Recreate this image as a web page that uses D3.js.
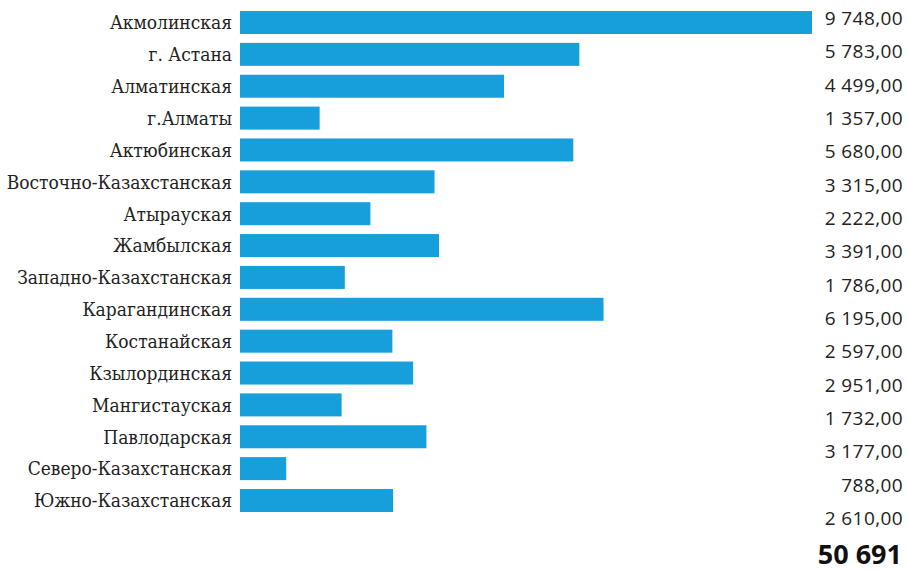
<!DOCTYPE html>
<html>
<head>
<meta charset="utf-8">
<script src="https://cdn.jsdelivr.net/npm/d3@7"></script>
<style>
  html, body { margin: 0; padding: 0; background: #fff; }
  svg { display: block; }
  .region { font-family: "DejaVu Serif", "Liberation Serif", serif; font-stretch: condensed; font-size: 19px; fill: #222; }
  .value { font-family: "Open Sans", "Noto Sans", sans-serif; font-size: 19px; letter-spacing: 0.4px; fill: #222; }
  .total { font-family: "Open Sans", "Noto Sans", sans-serif; font-size: 27px; font-weight: 700; fill: #111; }
</style>
</head>
<body>
<svg id="chart" width="908" height="572"></svg>
<script>
// Regions of Kazakhstan and their values
const regions = [
  "Акмолинская", "г. Астана", "Алматинская", "г.Алматы", "Актюбинская",
  "Восточно-Казахстанская", "Атырауская", "Жамбылская", "Западно-Казахстанская",
  "Карагандинская", "Костанайская", "Кзылординская", "Мангистауская",
  "Павлодарская", "Северо-Казахстанская", "Южно-Казахстанская"
];
const values = [
  9748, 5783, 4499, 1357, 5680,
  3315, 2222, 3391, 1786,
  6195, 2597, 2951, 1732,
  3177, 788, 2610
];
const totalValue = 50691;

const svg = d3.select("#chart");

const locale = d3.formatLocale({ decimal: ",", thousands: "\u00a0", grouping: [3], currency: ["", ""] });
const fmtValue = locale.format(",.2f");
const fmtTotal = locale.format(",d");

// Bar band: one row per region
const step = 31.87;
const y = d3.scaleBand()
  .domain(regions)
  .range([11 - 0.14 * step, 11 - 0.14 * step + regions.length * step])
  .paddingInner(0.278)
  .paddingOuter(0.14);

const x = d3.scaleLinear()
  .domain([0, d3.max(values)])
  .range([240, 812]);

const rows = regions.map((r, i) => ({ region: r, value: values[i], i }));

// Bars
svg.append("g")
  .selectAll("rect")
  .data(rows)
  .join("rect")
  .attr("x", x(0))
  .attr("y", d => y(d.region))
  .attr("width", d => x(d.value) - x(0))
  .attr("height", y.bandwidth())
  .attr("fill", "#169fdb");

// Region names, right-aligned against the bars
svg.append("g")
  .selectAll("text")
  .data(rows)
  .join("text")
  .attr("class", "region")
  .attr("x", 232)
  .attr("y", d => y(d.region) + y.bandwidth() / 2)
  .attr("dy", "0.36em")
  .attr("text-anchor", "end")
  .text(d => d.region);

// Value column on the right, on its own slightly wider row pitch
const yVal = d3.scalePoint()
  .domain(d3.range(regions.length))
  .range([25, 525]);

svg.append("g")
  .selectAll("text")
  .data(rows)
  .join("text")
  .attr("class", "value")
  .attr("x", 903)
  .attr("y", d => yVal(d.i))
  .attr("text-anchor", "end")
  .text(d => fmtValue(d.value));

// Grand total
svg.append("text")
  .attr("class", "total")
  .attr("x", 902)
  .attr("y", 564)
  .attr("text-anchor", "end")
  .text(fmtTotal(totalValue));
</script>
</body>
</html>
